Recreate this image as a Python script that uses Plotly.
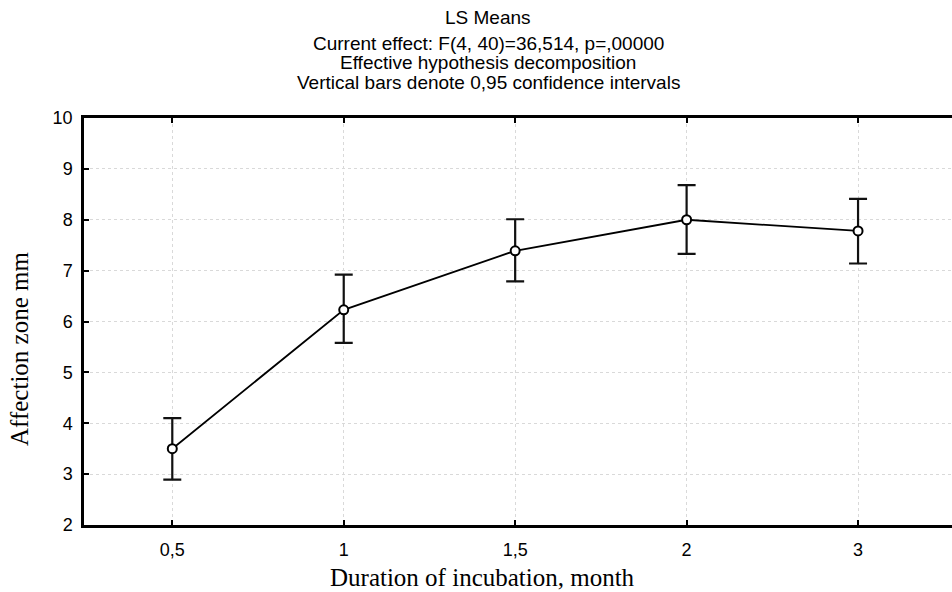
import plotly.graph_objects as go

categories = ["0,5", "1", "1,5", "2", "3"]
means = [3.50, 6.23, 7.39, 8.00, 7.78]
ci_upper = [4.10, 6.92, 8.01, 8.68, 8.41]
ci_lower = [2.89, 5.58, 6.79, 7.33, 7.14]

y_ticks = [2, 3, 4, 5, 6, 7, 8, 9, 10]

err_plus = [u - m for u, m in zip(ci_upper, means)]
err_minus = [m - l for m, l in zip(means, ci_lower)]
xpos = list(range(len(categories)))

fig = go.Figure()
fig.add_trace(go.Scatter(
    x=xpos, y=means, mode="lines+markers",
    line=dict(color="black", width=1.8),
    marker=dict(symbol="circle", size=9, color="white", line=dict(color="black", width=2)),
    error_y=dict(type="data", symmetric=False, array=err_plus, arrayminus=err_minus,
                 color="#111111", thickness=2.2, width=9),
    showlegend=False,
))

tick_font = dict(family="Liberation Sans, Arial, sans-serif", size=18, color="black")
axis_common = dict(
    showline=True, linecolor="black", linewidth=2.5,
    ticks="inside", ticklen=5, tickwidth=1.5, tickcolor="black",
    showgrid=True, gridcolor="#d9d9d9", griddash="dot", gridwidth=1,
    zeroline=False,
)

fig.update_xaxes(
    tickmode="array", tickvals=xpos, ticktext=categories,
    range=[-0.515, 4.548], mirror="ticks", ticklabelstandoff=7,
    tickfont=tick_font, **axis_common,
)
fig.update_yaxes(
    tickmode="array", tickvals=y_ticks,
    range=[2, 10], mirror=False, ticklabelstandoff=5,
    tickfont=tick_font, **axis_common,
)

title_lines = [
    ("LS Means", 17),
    ("Current effect: F(4, 40)=36,514, p=,00000", 43),
    ("Effective hypothesis decomposition", 62),
    ("Vertical bars denote 0,95 confidence intervals", 82),
]
PLOT_L, PLOT_W, PLOT_T, PLOT_H = 84, 868, 118, 407
annots = []
for txt, ypix in title_lines:
    annots.append(dict(
        text=txt, xref="paper", yref="paper", x=(488 - PLOT_L) / PLOT_W, y=1,
        xanchor="center", yanchor="middle", yshift=PLOT_T - ypix, showarrow=False,
        font=dict(family="Liberation Sans, Arial, sans-serif", size=19, color="black"),
    ))

annots.append(dict(
    text="Duration of incubation, month", xref="paper", yref="paper",
    x=(482 - PLOT_L) / PLOT_W, y=0, xanchor="center", yanchor="middle",
    yshift=-(577 - (PLOT_T + PLOT_H)), showarrow=False,
    font=dict(family="Liberation Serif, Times New Roman, serif", size=25, color="black"),
))
annots.append(dict(
    text="Affection zone mm", xref="paper", yref="paper",
    x=0, y=1 - (349 - PLOT_T) / PLOT_H, xanchor="center", yanchor="middle",
    xshift=-(PLOT_L - 19), textangle=-90, showarrow=False,
    font=dict(family="Liberation Serif, Times New Roman, serif", size=25, color="black"),
))

fig.update_layout(
    width=952, height=592,
    margin=dict(l=PLOT_L, r=0, t=PLOT_T, b=592 - PLOT_T - PLOT_H),
    plot_bgcolor="white", paper_bgcolor="white",
    annotations=annots,
)

fig.write_html("out.html")
